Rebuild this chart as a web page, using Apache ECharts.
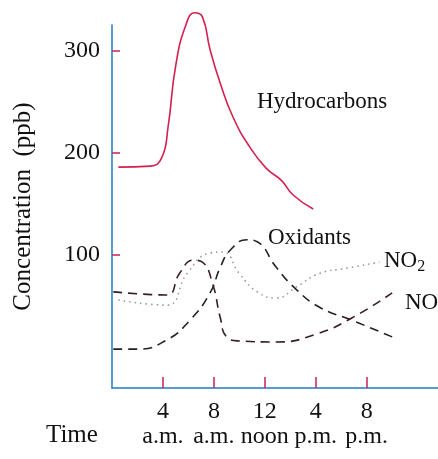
<!DOCTYPE html>
<html>
<head>
<meta charset="utf-8">
<script src="https://cdn.jsdelivr.net/npm/echarts@6/dist/echarts.min.js"></script>
<style>
  html, body { margin: 0; padding: 0; background: #fff; }
  #pic1 { width: 438px; height: 459px; }
</style>
</head>
<body>
<div id="pic1"></div>
<script>
// time of day in hours since midnight, concentration in ppb
var hydrocarbons = [[0.5,186],[3.0,187],[3.9,195],[4.4,225],[5.0,285],[5.8,325],[6.5,337],[7.1,333],[7.7,301],[8.5,268],[9.5,235],[10.8,206],[12.1,185],[13.3,173],[14.2,159],[15.8,145]];
var oxidants = [[0.1,8],[2.0,8],[4.3,17],[6.1,36],[7.7,63],[8.5,88],[9.3,105],[10.6,115],[11.4,113],[12.9,88],[14.5,66],[16.3,49],[18.9,36],[22.0,20]];
var no = [[0.1,64],[4.3,61],[5.3,82],[6.4,95],[7.1,93],[7.9,72],[8.5,39],[9.0,20],[10.0,16],[12.9,15],[16.1,23],[18.9,39],[22.0,63]];
var no2 = [[0.5,56],[4.3,51],[5.9,82],[7.7,102],[8.7,103],[10.0,82],[11.4,64],[12.9,58],[14.5,69],[16.3,82],[18.4,87],[21.0,93]];
var xTicks = [4, 8, 12, 16, 20];
var xTickNums = ['4', '8', '12', '4', '8'];
var xTickTimes = ['a.m.', 'a.m.', 'noon', 'p.m.', 'p.m.'];
var yTicks = [100, 200, 300];

var font = '"Liberation Serif", "DejaVu Serif", serif';
var tickColor = '#c8205a';
var axisColor = '#1f7cc0';

var pic1 = echarts.init(document.getElementById('pic1'));

function mkLine(name, data, color, type, width) {
    return {
        name: name,
        type: 'line',
        data: data,
        smooth: 0.5,
        showSymbol: false,
        clip: false,
        lineStyle: { color: color, type: type, width: width }
    };
}

var option = {
    animation: false,
    grid: { left: 112, right: 0, top: 25, bottom: 71 },
    xAxis: {
        type: 'value',
        min: 0,
        max: 25.6,
        axisLine: { onZero: false, lineStyle: { color: axisColor, width: 1.5 } },
        splitLine: { show: false },
        axisTick: {
            inside: true, length: 11, customValues: xTicks,
            lineStyle: { color: tickColor, width: 1.5 }
        },
        axisLabel: {
            customValues: xTicks,
            margin: 11,
            formatter: function (v) {
                var i = xTicks.indexOf(v);
                return '{n|' + xTickNums[i] + '}\n{t|' + xTickTimes[i] + '}';
            },
            rich: {
                n: { fontFamily: font, fontSize: 24, color: '#111', lineHeight: 25 },
                t: { fontFamily: font, fontSize: 24, color: '#111', lineHeight: 25 }
            }
        }
    },
    yAxis: {
        type: 'value',
        min: -30,
        max: 325,
        name: 'Concentration  (ppb)',
        nameLocation: 'middle',
        nameGap: 76,
        nameTextStyle: { fontFamily: font, fontSize: 25, color: '#111' },
        axisLine: { show: true, lineStyle: { color: axisColor, width: 1.5 } },
        splitLine: { show: false },
        axisTick: {
            inside: true, length: 8, customValues: yTicks,
            lineStyle: { color: tickColor, width: 1.5 }
        },
        axisLabel: {
            customValues: yTicks,
            margin: 12,
            fontFamily: font, fontSize: 24, color: '#111'
        }
    },
    series: [
        mkLine('Hydrocarbons', hydrocarbons, '#d4204e', 'solid', 1.6),
        mkLine('Oxidants', oxidants, '#222', [9, 6], 1.6),
        mkLine('NO', no, '#3a1c24', [9, 6], 1.6),
        mkLine('NO2', no2, '#9a9a9a', [1.5, 4], 1.6)
    ],
    graphic: [
        { type: 'text', left: 46, top: 423, style: { text: 'Time', font: '25px ' + font, fill: '#111' } },
        { type: 'text', left: 257, top: 90, style: { text: 'Hydrocarbons', font: '23px ' + font, fill: '#111' } },
        { type: 'text', left: 268, top: 226, style: { text: 'Oxidants', font: '23px ' + font, fill: '#111' } },
        { type: 'text', left: 384, top: 249, style: {
            text: 'NO{s|2}', font: '23px ' + font, fill: '#111',
            rich: { s: { fontFamily: font, fontSize: 16, padding: [12, 0, 0, 0] } }
        } },
        { type: 'text', left: 405, top: 291, style: { text: 'NO', font: '23px ' + font, fill: '#111' } }
    ]
};

pic1.setOption(option);
</script>
</body>
</html>
